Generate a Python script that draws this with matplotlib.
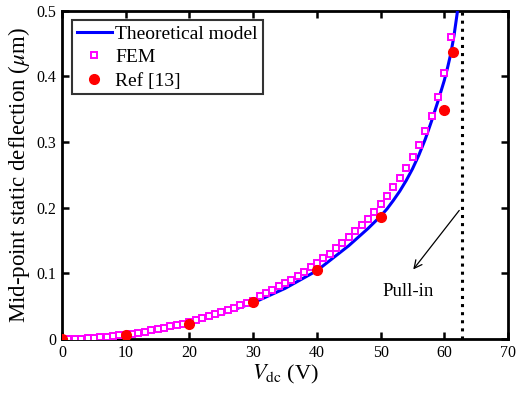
import matplotlib
matplotlib.use("Agg")
import matplotlib.pyplot as plt

plt.rcParams['font.family'] = ['Liberation Serif', 'DejaVu Serif']
plt.rcParams['mathtext.fontset'] = 'stix'

# Theoretical model
theory_v = [0, 5, 10, 15, 20, 25, 30, 35, 40, 45, 48, 50, 51, 52, 53, 54, 55, 56,
            57, 58, 59, 60, 60.5, 61, 61.5, 62, 62.15]
theory_d = [0, 0.0015, 0.006, 0.0135, 0.024, 0.038, 0.055, 0.077, 0.104, 0.142,
            0.168, 0.187, 0.198, 0.211, 0.225, 0.241, 0.259, 0.280, 0.304, 0.332,
            0.362, 0.394, 0.413, 0.434, 0.461, 0.495, 0.51]

# FEM results
fem_v = list(range(0, 62))
fem_d = [0, 0.0001, 0.0003, 0.0006, 0.001, 0.0016, 0.0023, 0.0032, 0.0042, 0.0053,
         0.0065, 0.008, 0.0095, 0.011, 0.013, 0.015, 0.017, 0.019, 0.021, 0.0235,
         0.026, 0.029, 0.032, 0.035, 0.038, 0.041, 0.044, 0.047, 0.051, 0.054,
         0.058, 0.066, 0.070, 0.075, 0.080, 0.085, 0.090, 0.096, 0.102, 0.110,
         0.116, 0.123, 0.130, 0.138, 0.146, 0.155, 0.164, 0.173, 0.183, 0.194,
         0.205, 0.218, 0.231, 0.245, 0.260, 0.277, 0.295, 0.317, 0.340, 0.369,
         0.405, 0.460]

# Ref [13]
ref_v = [0, 10, 20, 30, 40, 50, 60, 61.4]
ref_d = [0, 0.0066, 0.023, 0.056, 0.105, 0.186, 0.349, 0.437]

pull_in_v = 62.75

fig = plt.figure(figsize=(5.19, 4.04), dpi=100)
ax = fig.add_axes([0.1195, 0.161, 0.8595, 0.813])

ax.plot(theory_v, theory_d, color='#0000ff', lw=2.2, label='Theoretical model', zorder=3)
ax.plot(fem_v, fem_d, ls='none', marker='s', ms=4.5, mfc='white', mec='#ff00ff',
        mew=1.4, label='FEM', zorder=4)
ax.plot(ref_v, ref_d, ls='none', marker='o', ms=7, mfc='red', mec='red',
        label='Ref [13]', zorder=5)
ax.axvline(pull_in_v, color='black', ls=':', lw=2.2, zorder=2)

ax.annotate('', xy=(54.85, 0.1025), xytext=(62.6, 0.199),
            arrowprops=dict(arrowstyle='->', color='black', lw=0.9,
                            mutation_scale=14))
ax.text(54.3, 0.072, 'Pull-in', ha='center', va='center', fontsize=13.5)

ax.set_xlim(0, 70)
ax.set_ylim(0, 0.5)
ax.set_xticks(range(0, 71, 10))
ax.set_yticks([0, 0.1, 0.2, 0.3, 0.4, 0.5])
ax.set_yticklabels(['0', '0.1', '0.2', '0.3', '0.4', '0.5'])
ax.tick_params(direction='in', length=5, width=1.8, top=True, right=True,
               labelsize=11.5, pad=4)
for s in ax.spines.values():
    s.set_linewidth(2)

ax.set_xlabel(r'$V_{\rm dc}$ (V)', fontsize=16, labelpad=2)
ax.set_ylabel(r'Mid-point static deflection ($\mu$m)', fontsize=16.5, labelpad=3)

leg = ax.legend(loc='upper left', fontsize=14, frameon=True, fancybox=False,
                borderpad=0.25, labelspacing=0.3, handlelength=1.8,
                handletextpad=0.2, borderaxespad=0.5)
leg.get_frame().set_edgecolor('black')
leg.get_frame().set_linewidth(1.5)

fig.savefig('out.png', dpi=100)
